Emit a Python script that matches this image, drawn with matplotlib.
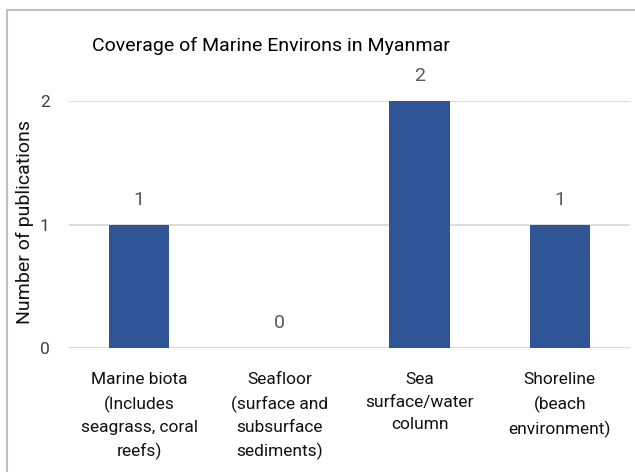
import matplotlib.pyplot as plt
from matplotlib.patches import Rectangle

plt.rcParams['font.family'] = ['Roboto', 'DejaVu Sans']

categories = [
    "Marine biota\n(Includes\nseagrass, coral\nreefs)",
    "Seafloor\n(surface and\nsubsurface\nsediments)",
    "Sea\nsurface/water\ncolumn",
    "Shoreline\n(beach\nenvironment)",
]
counts = [1, 0, 2, 1]
yticks = [0, 1, 2]

bar_color = "#2f5597"
grid_color = "#d9d9d9"
text_gray = "#595959"

fig = plt.figure(figsize=(6.35, 4.72), dpi=100)
ax = fig.add_axes([0.1087, 0.2627, 0.8833, 0.5233])

x = list(range(len(categories)))
bars = ax.bar(x, counts, width=0.43, color=bar_color, zorder=3)
for xi, v in zip(x, counts):
    ax.text(xi, v + 0.2, str(v), ha="center", va="center",
            fontsize=14, color=text_gray)

ax.set_xlim(-0.5, len(categories) - 0.5)
ax.set_ylim(0, 2)
ax.set_yticks(yticks)
ax.set_yticklabels([str(t) for t in yticks])
ax.set_xticks(x)
ax.set_xticklabels(categories, fontsize=12.5, color="#111111", linespacing=1.6)
ax.tick_params(axis="y", length=0, pad=14, labelsize=12.5, labelcolor="#404040")
ax.tick_params(axis="x", length=0, pad=17.5)
ax.grid(axis="y", color=grid_color, linewidth=1.3, zorder=0)
ax.set_axisbelow(True)
for s in ax.spines.values():
    s.set_visible(False)

ax.set_ylabel("Number of publications", fontsize=14, color="#111111")
ax.yaxis.set_label_coords(-0.063, 0.51)

fig.text(271 / 635, 1 - 46 / 472, "Coverage of Marine Environs in Myanmar",
         ha="center", va="center", fontsize=14, color="black")

# chart frame
fig.patches.append(Rectangle((6.5 / 635, -0.1), 1.1, 1.1 - 10 / 472,
                             transform=fig.transFigure, fill=False,
                             edgecolor="#bfbfbf", linewidth=1.5))

fig.savefig("out.png", dpi=100)
